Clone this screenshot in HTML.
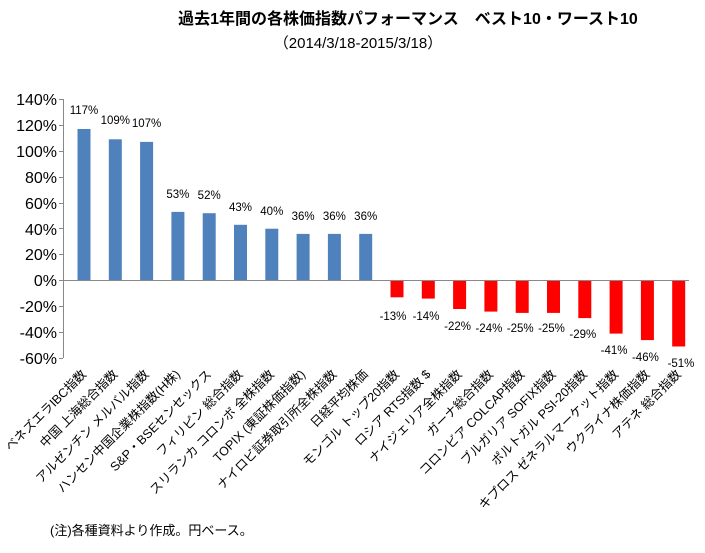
<!DOCTYPE html>
<html><head><meta charset="utf-8"><style>
html,body{margin:0;padding:0;background:#fff;}
</style></head><body>
<svg width="705" height="548" xmlns="http://www.w3.org/2000/svg" font-family="'Liberation Sans','Noto Sans CJK JP',sans-serif">
<text x="408" y="24" text-anchor="middle" font-size="16" font-weight="bold" fill="#000">過去1年間の各株価指数パフォーマンス　ベスト10・ワースト10</text>
<text x="358" y="48" text-anchor="middle" font-size="15" fill="#000">（2014/3/18-2015/3/18）</text>
<g font-size="16" fill="#000" text-anchor="end">
<text x="57" y="105">140%</text><text x="57" y="131">120%</text><text x="57" y="157">100%</text>
<text x="57" y="183">80%</text><text x="57" y="209">60%</text><text x="57" y="235">40%</text>
<text x="57" y="260">20%</text><text x="57" y="286">0%</text><text x="57" y="312">-20%</text>
<text x="57" y="338">-40%</text><text x="57" y="364">-60%</text>
</g>
<g stroke="#888" stroke-width="1">
<line x1="63.5" y1="99" x2="63.5" y2="358"/>
<line x1="59" y1="99.5" x2="63" y2="99.5"/><line x1="59" y1="125.5" x2="63" y2="125.5"/><line x1="59" y1="151.5" x2="63" y2="151.5"/><line x1="59" y1="177.5" x2="63" y2="177.5"/><line x1="59" y1="203.5" x2="63" y2="203.5"/><line x1="59" y1="228.5" x2="63" y2="228.5"/><line x1="59" y1="254.5" x2="63" y2="254.5"/><line x1="59" y1="280.5" x2="63" y2="280.5"/><line x1="59" y1="306.5" x2="63" y2="306.5"/><line x1="59" y1="332.5" x2="63" y2="332.5"/><line x1="59" y1="358.5" x2="63" y2="358.5"/>
</g>
<g fill="#4f81bd">
<rect x="77.5" y="129" width="13" height="151.5"/>
<rect x="108.8" y="139.3" width="13" height="141.2"/>
<rect x="140.1" y="141.9" width="13" height="138.6"/>
<rect x="171.4" y="211.9" width="13" height="68.6"/>
<rect x="202.7" y="213.2" width="13" height="67.3"/>
<rect x="234" y="224.8" width="13" height="55.7"/>
<rect x="265.3" y="228.7" width="13" height="51.8"/>
<rect x="296.6" y="233.9" width="13" height="46.6"/>
<rect x="327.9" y="233.9" width="13" height="46.6"/>
<rect x="359.2" y="233.9" width="13" height="46.6"/>
</g>
<g fill="#ff0000">
<rect x="390.5" y="280.5" width="13" height="16.8"/>
<rect x="421.8" y="280.5" width="13" height="18.1"/>
<rect x="453.1" y="280.5" width="13" height="28.5"/>
<rect x="484.4" y="280.5" width="13" height="31.1"/>
<rect x="515.7" y="280.5" width="13" height="32.4"/>
<rect x="547" y="280.5" width="13" height="32.4"/>
<rect x="578.3" y="280.5" width="13" height="37.6"/>
<rect x="609.6" y="280.5" width="13" height="53.1"/>
<rect x="640.9" y="280.5" width="13" height="59.6"/>
<rect x="672.2" y="280.5" width="13" height="66"/>
</g>
<line x1="63" y1="280.5" x2="689" y2="280.5" stroke="#888" stroke-width="1"/>
<g font-size="11.5" text-anchor="middle" fill="#000">
<text x="84" y="114">117%</text>
<text x="115.3" y="124">109%</text>
<text x="146.6" y="127">107%</text>
<text x="177.9" y="198">53%</text>
<text x="209.2" y="199">52%</text>
<text x="240.5" y="211">43%</text>
<text x="271.8" y="215">40%</text>
<text x="303.1" y="220">36%</text>
<text x="334.4" y="220">36%</text>
<text x="365.7" y="220">36%</text>
<text x="393" y="320">-13%</text>
<text x="426" y="320">-14%</text>
<text x="457.6" y="330">-22%</text>
<text x="488.9" y="332">-24%</text>
<text x="520.2" y="332">-25%</text>
<text x="551.5" y="332">-25%</text>
<text x="582.8" y="338">-29%</text>
<text x="614.1" y="354">-41%</text>
<text x="645.4" y="361">-46%</text>
<text x="681" y="367">-51%</text>
</g>
<g font-size="12.5" text-anchor="end" fill="#000">
<text transform="translate(87,375) rotate(-45)">ベネズエラIBC指数</text>
<text transform="translate(118.3,375) rotate(-45)">中国 上海総合指数</text>
<text transform="translate(149.6,375) rotate(-45)">アルゼンチン メルバル指数</text>
<text transform="translate(180.9,375) rotate(-45)">ハンセン中国企業株指数(H株)</text>
<text transform="translate(212.2,375) rotate(-45)">S&amp;P・BSEセンセックス</text>
<text transform="translate(243.5,375) rotate(-45)">フィリピン 総合指数</text>
<text transform="translate(274.8,375) rotate(-45)">スリランカ コロンボ 全株指数</text>
<text transform="translate(306.1,375) rotate(-45)">TOPIX (東証株価指数)</text>
<text transform="translate(337.4,375) rotate(-45)">ナイロビ証券取引所全株指数</text>
<text transform="translate(368.7,375) rotate(-45)">日経平均株価</text>
<text transform="translate(400,375) rotate(-45)">モンゴル トップ20指数</text>
<text transform="translate(431.3,375) rotate(-45)">ロシア RTS指数 $</text>
<text transform="translate(462.6,375) rotate(-45)">ナイジェリア全株指数</text>
<text transform="translate(493.9,375) rotate(-45)">ガーナ総合指数</text>
<text transform="translate(525.2,375) rotate(-45)">コロンビア COLCAP指数</text>
<text transform="translate(556.5,375) rotate(-45)">ブルガリア SOFIX指数</text>
<text transform="translate(587.8,375) rotate(-45)">ポルトガル PSI-20指数</text>
<text transform="translate(619.1,375) rotate(-45)">キプロス ゼネラルマーケット指数</text>
<text transform="translate(650.4,375) rotate(-45)">ウクライナ株価指数</text>
<text transform="translate(681.7,375) rotate(-45)">アテネ 総合指数</text>
</g>
<text x="50" y="535" font-size="13" fill="#000">(注)各種資料より作成。円ベース。</text>
</svg>
</body></html>
